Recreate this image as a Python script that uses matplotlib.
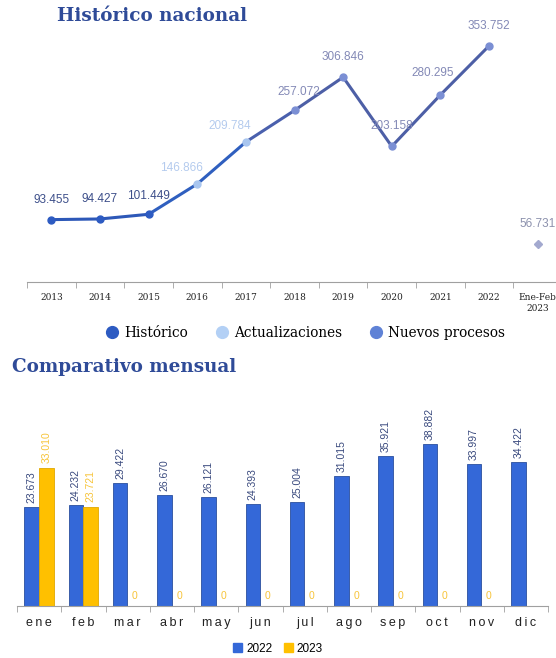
import numpy as np
import matplotlib.pyplot as plt
from matplotlib.lines import Line2D
from matplotlib.patches import Patch

years = ['2013', '2014', '2015', '2016', '2017', '2018', '2019', '2020',
         '2021', '2022', 'Ene-Feb\n2023']
historico = [93455, 94427, 101449]
actualizaciones = [101449, 146866, 209784]
nuevos = [209784, 257072, 306846, 203158, 280295, 353752]
ene_feb_2023 = 56731

meses = ['ene', 'feb', 'mar', 'abr', 'may', 'jun', 'jul', 'ago', 'sep',
         'oct', 'nov', 'dic']
v2022 = [23673, 24232, 29422, 26670, 26121, 24393, 25004, 31015, 35921,
         38882, 33997, 34422]
v2023 = [33010, 23721, 0, 0, 0, 0, 0, 0, 0, 0, 0, np.nan]


def fmt(v):
    return f'{int(v):,}'.replace(',', '.')


fig = plt.figure(figsize=(5.56, 6.58), dpi=100)

# ---------------- top: historico nacional ----------------
ax1 = fig.add_axes([27 / 556, 1 - 282 / 658, 535 / 556, 267 / 658])
x = np.arange(len(years))

ax1.plot(x[5:10], nuevos[1:], color='#4d5fa6', lw=2.2, zorder=2)
ax1.plot(x[4:6], [nuevos[0], nuevos[1]], color='#4a60ad', lw=2.2, zorder=2)
ax1.plot(x[2:5], actualizaciones, color='#2f5fbf', lw=2.2, zorder=2)
ax1.plot(x[0:3], historico, color='#2d58b8', lw=2.2, zorder=2)

ax1.plot(x[0:3], historico, 'o', color='#2d5bc2', ms=5, zorder=3)
ax1.plot(x[3:5], actualizaciones[1:], 'o', color='#a9c6ef', ms=5, zorder=3)
ax1.plot(x[5:10], nuevos[1:], 'o', color='#7b8fd4', ms=5, zorder=3)
ax1.plot(x[10], ene_feb_2023, 'D', color='#a3a9cf', ms=4, zorder=3)

lab_kw = dict(textcoords='offset pixels', ha='center', va='bottom',
              fontsize=8.5, family='Liberation Sans')
offs = [(0, 14), (0, 14), (0, 12)]
for i, v in enumerate(historico):
    ax1.annotate(fmt(v), (x[i], v), xytext=offs[i], color='#3d4f8a', **lab_kw)
for i, v in zip([3, 4], actualizaciones[1:]):
    ax1.annotate(fmt(v), (x[i], v), xytext=(-16, 10), color='#b4cbee', **lab_kw)
n_offs = [(4, 12), (0, 14), (0, 14), (-8, 16), (0, 14)]
for j, (i, v) in enumerate(zip(range(5, 10), nuevos[1:])):
    ax1.annotate(fmt(v), (x[i], v), xytext=n_offs[j], color='#8389b6', **lab_kw)
ax1.annotate(fmt(ene_feb_2023), (x[10], ene_feb_2023), xytext=(0, 14),
             color='#8c91ad', **lab_kw)

ax1.set_xlim(-0.5, len(years) - 0.5)
ax1.set_ylim(0, 400000)
ax1.set_yticks([])
for s in ['top', 'right', 'left']:
    ax1.spines[s].set_visible(False)
ax1.spines['bottom'].set_color('#a0a0a0')
ax1.set_xticks(x)
ax1.set_xticklabels(years, fontsize=6.5, family='DejaVu Serif', color='#222222')
ax1.set_xticks(np.arange(-0.5, len(years)), minor=True)
ax1.tick_params(axis='x', which='major', length=0, pad=8)
ax1.tick_params(axis='x', which='minor', length=4, color='#a0a0a0')

fig.text(57 / 556, 1 - 16 / 658, 'Histórico nacional', fontsize=13.2,
         fontweight='bold', family='DejaVu Serif', color='#2f4b98', va='center')

handles = [Line2D([], [], marker='o', ls='', color='#2d5bc2', ms=8.5),
           Line2D([], [], marker='o', ls='', color='#b3d0f5', ms=8.5),
           Line2D([], [], marker='o', ls='', color='#5f82d6', ms=8.5)]
fig.legend(handles, ['Histórico', 'Actualizaciones', 'Nuevos procesos'],
           loc='center', bbox_to_anchor=(305 / 556, 1 - 333 / 658), ncol=3,
           frameon=False, prop={'family': 'DejaVu Serif', 'size': 9.8},
           handletextpad=0.4, columnspacing=2.0, handlelength=1)

# ---------------- bottom: comparativo mensual ----------------
fig.text(12 / 556, 1 - 367 / 658, 'Comparativo mensual', fontsize=13.2,
         fontweight='bold', family='DejaVu Serif', color='#2f4b98', va='center')

ax2 = fig.add_axes([17 / 556, 1 - 606 / 658, 531 / 556, 188 / 658])
m = np.arange(len(meses))
w = 0.33
b1 = ax2.bar(m - 0.17, v2022, w, color='#3468d8', edgecolor='#2a4f9e',
             lw=0.6, label='2022')
b2 = ax2.bar(m + 0.165, v2023, w, color='#ffc000', edgecolor='#e0a800',
             lw=0.6, label='2023')

for r, v in zip(b1, v2022):
    ax2.annotate(fmt(v), (r.get_x() + r.get_width() / 2, v), xytext=(0, 4),
                 textcoords='offset pixels', ha='center', va='bottom',
                 rotation=90, fontsize=7.5, color='#3a4a7e',
                 family='Liberation Sans')
for r, v in zip(b2, v2023):
    if np.isnan(v):
        continue
    ax2.annotate(fmt(v), (r.get_x() + r.get_width() / 2, v), xytext=(0, 5),
                 textcoords='offset pixels', ha='center', va='bottom',
                 rotation=90 if v > 0 else 0, fontsize=7.5, color='#f7c43a',
                 family='Liberation Sans')

ax2.set_xlim(-0.5, len(meses) - 0.5)
ax2.set_ylim(0, 45000)
ax2.set_yticks([])
for s in ['top', 'right', 'left']:
    ax2.spines[s].set_visible(False)
ax2.spines['bottom'].set_color('#a0a0a0')
ax2.set_xticks(m)
ax2.set_xticklabels(['\u2009'.join(t) for t in meses], fontsize=9,
                    family='Liberation Sans', color='#222222')
ax2.set_xticks(np.arange(-0.5, len(meses)), minor=True)
ax2.tick_params(axis='x', which='major', length=0, pad=8)
ax2.tick_params(axis='x', which='minor', length=4, color='#a0a0a0')

fig.legend([Patch(color='#3468d8'), Patch(color='#ffc000')], ['2022', '2023'],
           loc='center', bbox_to_anchor=(0.5, 1 - 649 / 658), ncol=2,
           frameon=False, prop={'family': 'Liberation Sans', 'size': 8.5},
           handlelength=0.8, handleheight=0.8, handletextpad=0.3,
           columnspacing=1.0)

fig.savefig('out.png', dpi=100)
